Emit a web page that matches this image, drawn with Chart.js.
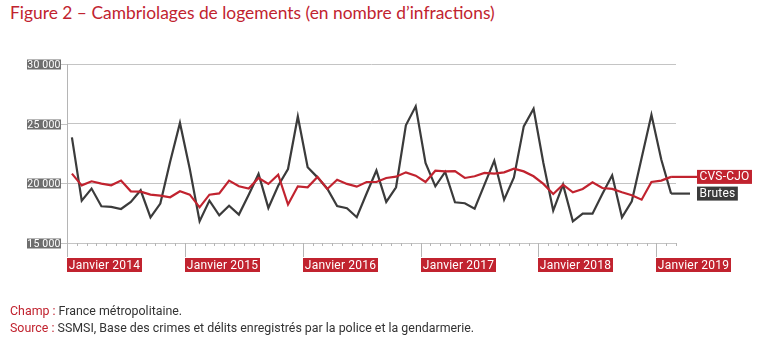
<!DOCTYPE html>
<html>
<head>
<meta charset="utf-8">
<script src="https://cdn.jsdelivr.net/npm/chart.js@4"></script>
<style>
  html, body { margin: 0; padding: 0; background: #fff; }
  body { width: 760px; height: 342px; position: relative; overflow: hidden; }
  #chart { position: absolute; left: 0; top: 0; }
  .title { position: absolute; left: 10px; top: 2px; font: 17.4px Lato, "Noto Sans", sans-serif; color: #c1232f; white-space: nowrap; }
  .note { position: absolute; left: 10px; font: 12.4px Roboto, sans-serif; color: #333; white-space: nowrap; }
  .note span { color: #c1232f; }
</style>
</head>
<body>
<div class="title">Figure 2 – Cambriolages de logements (en nombre d’infractions)</div>
<canvas id="chart" width="760" height="342"></canvas>
<div class="note" style="top:303px"><span>Champ :</span> France métropolitaine.</div>
<div class="note" style="top:320px"><span>Source :</span> SSMSI, Base des crimes et délits enregistrés par la police et la gendarmerie.</div>
<script>
// monthly categories, janvier 2014 -> février 2019
const years = [2014, 2015, 2016, 2017, 2018, 2019]
const monthNames = ["janv.", "févr.", "mars", "avr.", "mai", "juin", "juil.", "août", "sept.", "oct.", "nov.", "déc."]
const months = []
years.forEach(yr => monthNames.forEach((m, i) => {
    if (yr < 2019 || i < 2) months.push(m + " " + yr)
}))

// raw counts
const brutes = [
    23850, 18550, 19560, 18080, 18020, 17850, 18440, 19420, 17150, 18300, 21800, 25060,
    21200, 16820, 18550, 17320, 18130, 17380, 19050, 20790, 17940, 19800, 21200, 25600,
    21350, 20500, 19550, 18100, 17920, 17160, 19150, 21080, 18440, 19670, 24860, 26450,
    21700, 19750, 20950, 18410, 18330, 17880, 19890, 21900, 18630, 20500, 24770, 26250,
    21700, 17710, 19890, 16820, 17460, 17460, 19100, 20670, 17150, 18490, 22130, 25750,
    22000, 19140
]
// seasonally and working-day adjusted
const cvsCjo = [
    20810, 19830, 20170, 19970, 19830, 20230, 19330, 19300, 19050, 18970, 18830, 19330,
    19050, 17990, 19050, 19160, 20230, 19750, 19560, 20450, 19950, 20730, 18220, 19750,
    19670, 20540, 19530, 20300, 19950, 19720, 20110, 20110, 20450, 20560, 20920, 20640,
    20110, 21060, 21000, 21030, 20450, 20590, 20870, 20810, 20920, 21230, 21000, 20590,
    19950, 19110, 19890, 19250, 19530, 20080, 19610, 19530, 19250, 19000, 18630, 20110,
    20230, 20540
]
const yTicks = [15000, 20000, 25000, 30000]

const RED = "#c1232f"
const DARK = "#3b3b3b"
const GREYBOX = "#6e6e6e"
const GRID = "#c4c4c4"
const FONT = "Roboto, sans-serif"

// boxes for tick labels, month ticks and series labels
const decorations = {
    id: "decorations",
    afterDraw(chart) {
        const { ctx, chartArea: a, scales: { y } } = chart
        ctx.save()
        ctx.lineWidth = 1
        ctx.strokeStyle = GRID

        // y labels in grey boxes
        ctx.font = "10.5px " + FONT
        ctx.letterSpacing = "0.2px"
        ctx.textBaseline = "middle"
        ctx.textAlign = "center"
        yTicks.forEach(v => {
            const py = Math.round(y.getPixelForValue(v)) + 0.5
            ctx.beginPath()
            ctx.moveTo(a.left - 6, py)
            ctx.lineTo(a.left, py)
            ctx.stroke()
            ctx.fillStyle = GREYBOX
            ctx.fillRect(a.left - 40, py - 5, 34, 10)
            ctx.fillStyle = "#fff"
            ctx.fillText(v.toLocaleString("fr-FR").replace(/\s/g, " "), a.left - 23, py + 0.5)
        })

        // month ticks, januaries long with label
        const step = a.width / months.length
        ctx.font = "12px " + FONT
        ctx.letterSpacing = "0.2px"
        for (let k = 0; k <= months.length; k++) {
            const px = Math.round(a.left + k * step) + 0.5
            const jan = k % 12 === 0 && k < months.length
            ctx.strokeStyle = "#b5b5b5"
            ctx.beginPath()
            ctx.moveTo(px, k === 0 ? a.top : a.bottom)
            ctx.lineTo(px, a.bottom + (jan ? 14 : 3))
            ctx.stroke()
            if (jan) {
                const txt = "Janvier " + years[k / 12]
                ctx.fillStyle = RED
                ctx.fillRect(px - 0.5, a.bottom + 15, 75, 14)
                ctx.fillStyle = "#fff"
                ctx.fillText(txt, px + 37, a.bottom + 22.5)
            }
        }

        // end labels with leader lines
        const ends = [
            { name: "CVS-CJO", meta: chart.getDatasetMeta(0), color: RED, stop: 697 },
            { name: "Brutes", meta: chart.getDatasetMeta(1), color: DARK, stop: 690 }
        ]
        ends.forEach(e => {
            const last = e.meta.data[e.meta.data.length - 1]
            ctx.strokeStyle = e.color
            ctx.lineWidth = 2.2
            ctx.beginPath()
            ctx.moveTo(last.x, last.y)
            ctx.lineTo(e.stop, last.y)
            ctx.stroke()
            const w = ctx.measureText(e.name).width + 5
            ctx.fillStyle = e.color
            ctx.fillRect(697, last.y - 7, w, 14)
            ctx.fillStyle = "#fff"
            ctx.fillText(e.name, 697 + w / 2, last.y + 0.5)
        })
        ctx.restore()
    }
}

new Chart(document.getElementById("chart"), {
    type: "line",
    data: {
        labels: months,
        datasets: [
            { label: "CVS-CJO", data: cvsCjo, borderColor: RED, borderWidth: 2.2, pointRadius: 0, tension: 0 },
            { label: "Brutes", data: brutes, borderColor: DARK, borderWidth: 2.2, pointRadius: 0, tension: 0 }
        ]
    },
    options: {
        responsive: false,
        animation: false,
        devicePixelRatio: 1,
        layout: { padding: { left: 67, right: 84, top: 64, bottom: 99 } },
        plugins: { legend: { display: false }, tooltip: { enabled: false } },
        scales: {
            x: {
                offset: true,
                grid: { display: false, drawTicks: false },
                border: { display: false },
                ticks: { display: false }
            },
            y: {
                min: 15000,
                max: 30000,
                ticks: { display: false, stepSize: 5000 },
                grid: { color: GRID, drawTicks: false },
                border: { display: false }
            }
        }
    },
    plugins: [decorations]
})
</script>
</body>
</html>
